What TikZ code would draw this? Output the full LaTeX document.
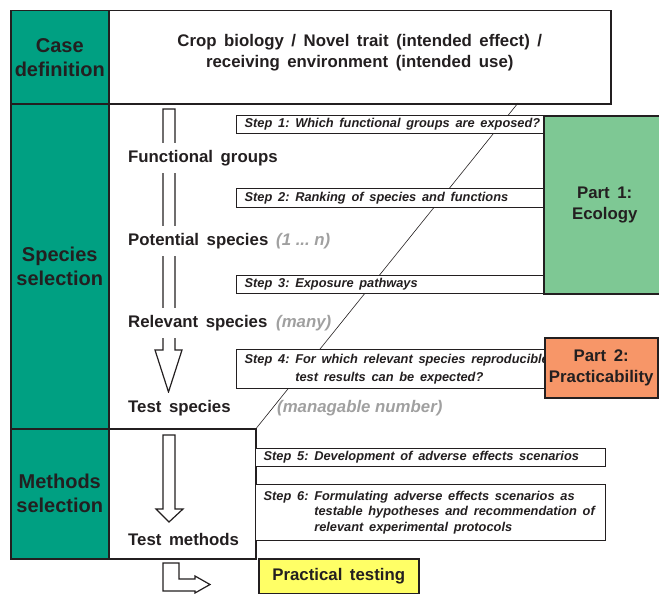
\documentclass[tikz,border=0pt]{standalone}
\usepackage{fontspec}
\setmainfont{Liberation Sans}
\usepackage{tikz}
\usetikzlibrary{positioning}
\definecolor{casegreen}{RGB}{0, 160, 130}
\definecolor{ecogreen}{RGB}{126, 200, 148}
\definecolor{practorange}{RGB}{247, 150, 104}
\definecolor{testyellow}{RGB}{255, 255, 102}
\definecolor{graytext}{RGB}{160, 160, 160}
\definecolor{darkline}{RGB}{35, 31, 32}
\frenchspacing
\newcommand{\widespaces}{\spaceskip=0.45em plus 0.1em minus 0.05em\relax}
\newcommand{\bigfont}{\fontsize{20}{24}\selectfont\bfseries}
\newcommand{\labfont}{\fontsize{16.8}{21}\selectfont\bfseries\widespaces}
\newcommand{\countfont}{\fontsize{16.8}{21}\selectfont\bfseries\itshape}
\newcommand{\stepfont}{\fontsize{12.8}{15.5}\selectfont\bfseries\itshape}
\newcommand{\steptallfont}{\fontsize{12.8}{18}\selectfont\bfseries\itshape}

\begin{document}
\begin{tikzpicture}[
    x=1pt, y=-1pt,
    colbox/.style={draw=darkline, line width=1.5pt, fill=casegreen, anchor=north west, inner sep=0pt, align=center, font=\bigfont, text=darkline},
    framebox/.style={draw=darkline, line width=1.5pt, fill=white, anchor=north west, inner sep=0pt},
    stepbox/.style={draw=darkline, line width=1.3pt, fill=white, anchor=north west, inner xsep=8pt, inner ysep=0pt, align=left, font=\stepfont, text=darkline, execute at begin node=\widespaces},
    partbox/.style={draw=darkline, line width=1.5pt, anchor=north west, inner sep=0pt, align=center, font=\labfont, text=darkline},
    stage/.style={fill=white, anchor=west, inner xsep=2pt, inner ysep=0pt, minimum height=30pt, font=\labfont, text=darkline},
    count/.style={anchor=west, inner sep=0pt, font=\countfont, text=graytext},
    hollow/.style={draw=darkline, line width=1.2pt, fill=white, line join=miter},
    diag/.style={draw=darkline, line width=0.6pt}
]
    \useasboundingbox (0,0) rectangle (659,594);

    % left column
    \node[colbox, minimum width=98pt, minimum height=93pt] (casedef) at (10,10) {Case\\definition};
    \node[colbox, minimum width=98pt, minimum height=325pt] (specsel) at (10,103) {Species\\selection};
    \node[colbox, minimum width=98pt, minimum height=130pt] (methsel) at (10,428) {Methods\\selection};

    % case row and methods box
    \node[framebox, minimum width=502pt, minimum height=93pt] (casebox) at (108,10) {};
    \node[font=\labfont, align=center, text=darkline] (casetext) at ([yshift=5pt]casebox.center) {Crop biology / Novel trait (intended effect) /\\receiving environment (intended use)};
    \node[framebox, minimum width=147pt, minimum height=130pt] (methbox) at (108,428) {};

    \coordinate (d0) at (518,103);
    \draw[diag] (d0) -- (methbox.north east);

    % hollow arrows
    \draw[hollow] (163,109) -- (175,109) -- (175,350) -- (182,350) -- (168.5,392) -- (155,350) -- (163,350) -- cycle;
    \draw[hollow] (163,435) -- (175,435) -- (175,509) -- (183,509) -- (169,522) -- (156,509) -- (163,509) -- cycle;

    % stages
    \node[stage] (fg) at (126,158) {Functional groups};
    \node[stage] (ps) at (126,241) {Potential species};
    \node[count] (psn) at (276,241) {(1 ... n)};
    \node[stage] (rs) at (126,323) {Relevant species};
    \node[count] (rsn) at (276,323) {(many)};
    \node[stage] (ts) at (126,408) {Test species};
    \node[count] (tsn) at (277,408) {(managable number)};
    \node[stage] (tm) at (126,539) {Test methods};

    % steps
    \node[stepbox, minimum height=18pt, text width=291pt] (step1) at (236,115) {\mbox{Step 1: Which functional groups are exposed?}};
    \node[stepbox, minimum height=19pt, text width=291pt] (step2) at (236,188) {\mbox{Step 2: Ranking of species and functions}};
    \node[stepbox, minimum height=18pt, text width=291pt] (step3) at (236,275) {\mbox{Step 3: Exposure pathways}};
    \node[stepbox, minimum height=39pt, text width=293pt, font=\steptallfont] (step4) at (236,349) {%
        \begin{tabular}{@{}l@{\ }l@{}}Step 4: & For which relevant species reproducible\\ & test results can be expected?\end{tabular}};
    \node[stepbox, minimum height=18pt, text width=334pt] (step5) at (255,448) {\mbox{Step 5: Development of adverse effects scenarios}};
    \node[stepbox, minimum height=56pt, text width=334pt] (step6) at (255,484) {%
        \begin{tabular}{@{}l@{\ }l@{}}Step 6: & Formulating adverse effects scenarios as\\ & testable hypotheses and recommendation of\\ & relevant experimental protocols\end{tabular}};

    % parts
    \node[partbox, fill=ecogreen, minimum width=122pt, minimum height=178pt] (part1) at (543,115) {Part 1:\\Ecology};
    \node[partbox, fill=practorange, minimum width=113pt, minimum height=60pt] (part2) at (544,337) {Part 2:\\Practicability};
    \node[partbox, fill=testyellow, minimum width=160pt, minimum height=35pt] (practical) at (258,558) {Practical testing};

    \draw[hollow] (163,563) -- (179,563) -- (179,579) -- (195,579) -- (195,576) -- (210,584.5) -- (195,593) -- (195,591) -- (163,591) -- cycle;
\end{tikzpicture}
\end{document}
